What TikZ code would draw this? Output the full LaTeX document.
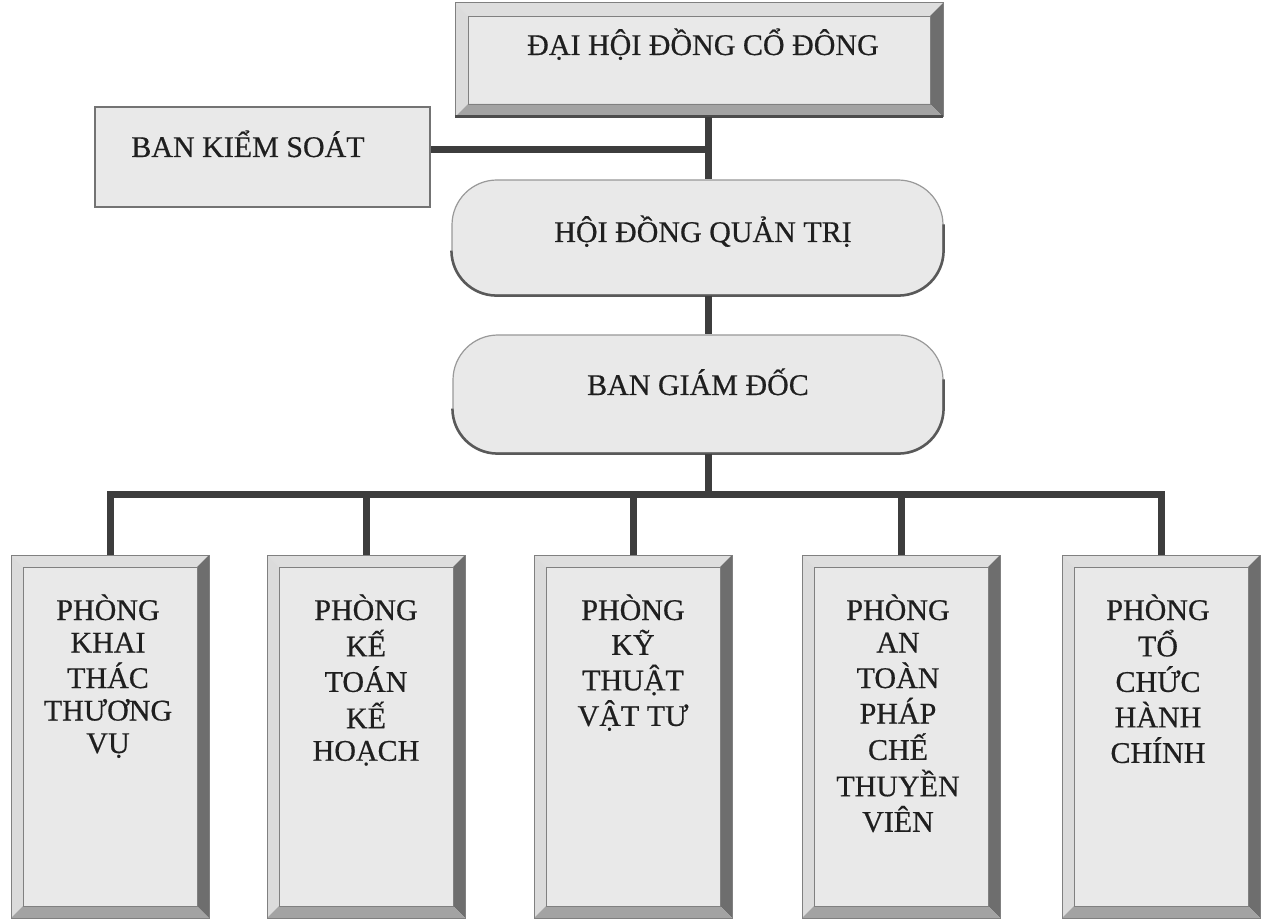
\documentclass[tikz,border=0pt]{standalone}
\usepackage{fontspec}
\setmainfont{Liberation Serif}[FakeBold=0.5]
\definecolor{face}{gray}{0.915}
\definecolor{bevtop}{gray}{0.87}
\definecolor{bevleft}{gray}{0.86}
\definecolor{bevright}{gray}{0.43}
\definecolor{bevbot}{gray}{0.64}
\definecolor{edgec}{gray}{0.50}
\definecolor{connc}{gray}{0.24}
\newcommand\bevbox[6]{%
  \node[rectangle, fill=face, minimum width=#4pt, minimum height=#5pt, inner sep=0pt, outer sep=0pt] (#1) at (#2,#3) {};
  \fill[bevtop] (#1.north west) -- (#1.north east) -- ([shift={(-#6,-#6)}]#1.north east) -- ([shift={(#6,-#6)}]#1.north west) -- cycle;
  \fill[bevleft] (#1.north west) -- ([shift={(#6,-#6)}]#1.north west) -- ([shift={(#6,#6)}]#1.south west) -- (#1.south west) -- cycle;
  \fill[bevright] (#1.north east) -- (#1.south east) -- ([shift={(-#6,#6)}]#1.south east) -- ([shift={(-#6,-#6)}]#1.north east) -- cycle;
  \fill[bevbot] (#1.south east) -- (#1.south west) -- ([shift={(#6,#6)}]#1.south west) -- ([shift={(-#6,#6)}]#1.south east) -- cycle;
  \draw[edgec, line width=0.5pt] ([shift={(#6,-#6)}]#1.north west) rectangle ([shift={(-#6,#6)}]#1.south east);
  \draw[edgec, line width=1pt] (#1.north west) rectangle (#1.south east);
}
\tikzset{
  lab/.style={font=\fontsize{30}{32.5}\selectfont, inner sep=0pt, text=black!88},
  conn/.style={connc, line width=7pt},
  rbox/.style={rectangle, rounded corners=45pt, fill=face, draw=black!40, line width=1.2pt, inner sep=0pt},
}
\begin{document}
\begin{tikzpicture}[x=1pt,y=1pt]
\useasboundingbox (0,0) rectangle (1263,922);
\fill[white] (0,0) rectangle (1263,922);

% top box
\bevbox{dhcd}{699}{862}{488}{114}{13}
\draw[black!70, line width=3pt] (dhcd.south west) -- (dhcd.south east);
\node[lab, anchor=base] (tdhcd) at (703,867) {ĐẠI HỘI ĐỒNG CỔ ĐÔNG};

% ban kiem soat
\node[rectangle, fill=face, draw=black!55, line width=1.5pt, minimum width=335pt, minimum height=100pt, inner sep=0pt] (bks) at (262.5,765) {};
\node[lab, anchor=base] (tbks) at (248,765) {BAN KIỂM SOÁT};

% hoi dong quan tri
\node[rbox, minimum width=491pt, minimum height=115pt] (hdqt) at (697.5,684.5) {};
\draw[black!65, line width=2.5pt] ([yshift=-45pt]hdqt.north east) -- ([yshift=45pt]hdqt.south east) arc[start angle=0,end angle=-90,radius=45pt] -- ([xshift=45pt]hdqt.south west) arc[start angle=270,end angle=180,radius=45pt];
\node[lab, anchor=base] (thdqt) at (703,680) {HỘI ĐỒNG QUẢN TRỊ};

% ban giam doc
\node[rbox, minimum width=490pt, minimum height=118pt] (bgd) at (698,528) {};
\draw[black!65, line width=2.5pt] ([yshift=-45pt]bgd.north east) -- ([yshift=45pt]bgd.south east) arc[start angle=0,end angle=-90,radius=45pt] -- ([xshift=45pt]bgd.south west) arc[start angle=270,end angle=180,radius=45pt];
\node[lab, anchor=base] (tbgd) at (698,527) {BAN GIÁM ĐỐC};

% bottom boxes
\bevbox{p1}{110}{185.5}{198}{363}{12}
\bevbox{p2}{366}{185.5}{198}{363}{12}
\bevbox{p3}{633}{185.5}{198}{363}{12}
\bevbox{p4}{901}{185.5}{198}{363}{12}
\bevbox{p5}{1161}{185.5}{198}{363}{12}
\node[lab, anchor=base] (t1) at (108,302) {\begin{tabular}[t]{@{}c@{}}PHÒNG\\KHAI\\THÁC\\THƯƠNG\\VỤ\end{tabular}};
\node[lab, anchor=base] (t2) at (366,302) {\begin{tabular}[t]{@{}c@{}}PHÒNG\\KẾ\\TOÁN\\KẾ\\HOẠCH\end{tabular}};
\node[lab, anchor=base] (t3) at (633,302) {\begin{tabular}[t]{@{}c@{}}PHÒNG\\KỸ\\THUẬT\\VẬT TƯ\end{tabular}};
\node[lab, anchor=base] (t4) at (898,302) {\begin{tabular}[t]{@{}c@{}}PHÒNG\\AN\\TOÀN\\PHÁP\\CHẾ\\THUYỀN\\VIÊN\end{tabular}};
\node[lab, anchor=base] (t5) at (1158,302) {\begin{tabular}[t]{@{}c@{}}PHÒNG\\TỔ\\CHỨC\\HÀNH\\CHÍNH\end{tabular}};

% connectors
\coordinate (j1) at (708,772);
\coordinate (bus) at (708,427);
\draw[conn] (dhcd.south -| j1) -- (hdqt.north -| j1);
\draw[conn] (bks.east |- j1) -- (j1);
\draw[conn] (hdqt.south -| j1) -- (bgd.north -| j1);
\draw[conn] (bgd.south -| bus) -- (bus);
\draw[conn, line join=miter] (p1.north) -- (p1.north |- bus) -- (p5.north |- bus) -- (p5.north);
\draw[conn] (p2.north) -- (p2.north |- bus);
\draw[conn] (p3.north) -- (p3.north |- bus);
\draw[conn] (p4.north) -- (p4.north |- bus);
\end{tikzpicture}
\end{document}
